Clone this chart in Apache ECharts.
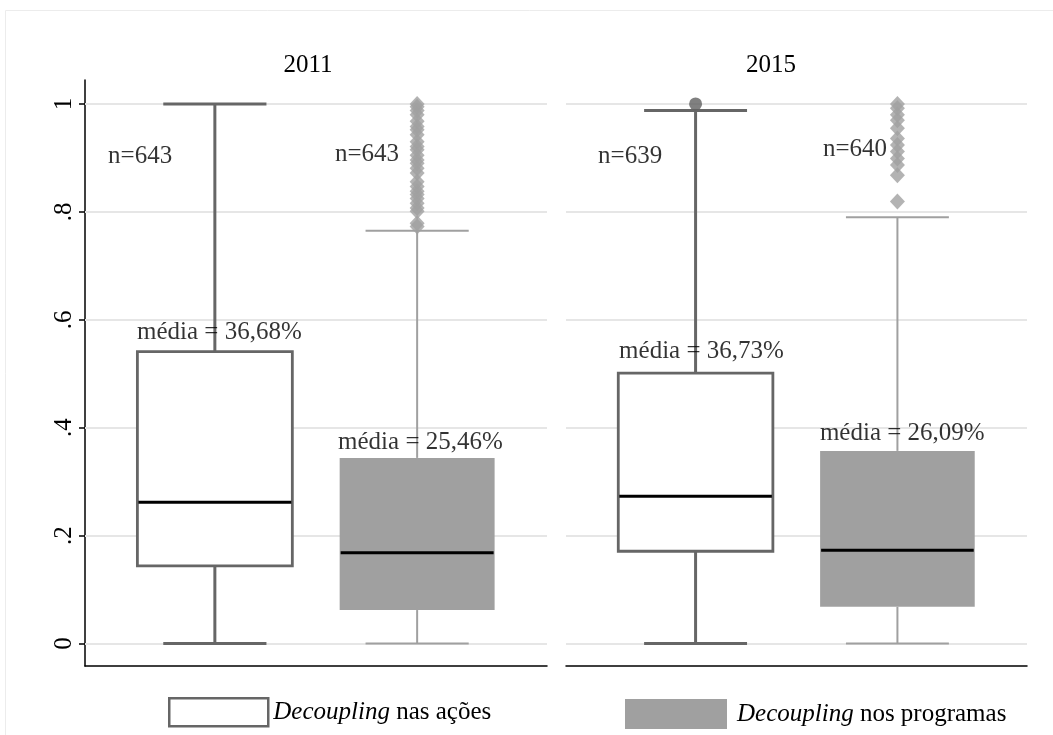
<!DOCTYPE html>
<html><head><meta charset="utf-8">
<script src="https://cdn.jsdelivr.net/npm/echarts@6/dist/echarts.min.js"></script>
<style>html,body{margin:0;padding:0;background:#fff}#c{width:1053px;height:735px}</style>
</head><body><div id="c"></div>
<script>
// ---------------- DATA ----------------
const years = ['2011', '2015'];
const groups = ['Decoupling nas ações', 'Decoupling nos programas'];
// [lower whisker, Q1, median, Q3, upper whisker]
const acoesBox = [[0, 0.144, 0.262, 0.541, 1.0], [0, 0.171, 0.273, 0.501, 0.988]];
const programasBox = [[0, 0.062, 0.168, 0.344, 0.765], [0, 0.068, 0.173, 0.357, 0.790]];
const acoesOutliers = [[], [1.0]];
const programasOutliers = [
  [1.0, 0.995, 0.988, 0.98, 0.968, 0.958, 0.952, 0.943, 0.93, 0.921, 0.915, 0.905, 0.896, 0.89, 0.881, 0.872, 0.856, 0.847, 0.838, 0.832, 0.825, 0.816, 0.807, 0.801, 0.779, 0.773],
  [1.0, 0.992, 0.98, 0.97, 0.955, 0.936, 0.924, 0.912, 0.899, 0.887, 0.868, 0.819]
];
const acoesN = [643, 639];
const programasN = [643, 640];
const acoesMean = [36.68, 36.73];
const programasMean = [25.46, 26.09];
const yTicks = [0, 0.2, 0.4, 0.6, 0.8, 1];
const yTickLabels = ['0', '.2', '.4', '.6', '.8', '1'];

// ---------------- LAYOUT / STYLE ----------------
const FONT = 'Liberation Serif';
const FS = 25;
const POS = [1, 2];               // x position of the two boxes inside a panel
const X_MIN = 0.358, X_MAX = 2.642;
const Y_MIN = -0.0417, Y_MAX = 1.0444;
const BOX_W = 0.766, CAP_W = 0.51;
const boxStyles = [
  { fill: '#ffffff', stroke: '#666666', lw: 2.8, wcol: '#666666', wlw: 3 },
  { fill: '#a0a0a0', stroke: '#a0a0a0', lw: 0, wcol: '#a0a0a0', wlw: 2 }
];
// annotation anchor points (data coords: [x, y]) per panel: n(ações), n(programas), média(ações), média(programas)
const annotPos = [
  [[0.472, 0.902], [1.594, 0.907], [0.615, 0.577], [1.609, 0.373]],
  [[0.517, 0.902], [1.631, 0.915], [0.621, 0.542], [1.616, 0.390]]
];
const panels = [
  { left: 85, width: 462, titleX: 308 },
  { left: 566, width: 461, titleX: 771 }
];

function fmtPct(v) { return 'média = ' + v.toFixed(2).replace('.', ',') + '%'; }

function renderBox(params, api) {
  const x = api.value(0);
  const st = boxStyles[api.value(6)];
  const pMin = api.coord([x, api.value(1)]);
  const pQ1 = api.coord([x, api.value(2)]);
  const pMed = api.coord([x, api.value(3)]);
  const pQ3 = api.coord([x, api.value(4)]);
  const pMax = api.coord([x, api.value(5)]);
  const hb = api.size([BOX_W, 0])[0] / 2;
  const hc = api.size([CAP_W, 0])[0] / 2;
  const cx = pMed[0];
  const wStyle = { stroke: st.wcol, lineWidth: st.wlw, fill: null };
  return {
    type: 'group',
    children: [
      { type: 'line', shape: { x1: cx, y1: pQ3[1], x2: cx, y2: pMax[1] }, style: wStyle },
      { type: 'line', shape: { x1: cx - hc, y1: pMax[1], x2: cx + hc, y2: pMax[1] }, style: wStyle },
      { type: 'line', shape: { x1: cx, y1: pQ1[1], x2: cx, y2: pMin[1] }, style: wStyle },
      { type: 'line', shape: { x1: cx - hc, y1: pMin[1], x2: cx + hc, y2: pMin[1] }, style: wStyle },
      { type: 'rect', shape: { x: cx - hb, y: pQ3[1], width: 2 * hb, height: pQ1[1] - pQ3[1] },
        style: { fill: st.fill, stroke: st.lw ? st.stroke : null, lineWidth: st.lw } },
      { type: 'line', shape: { x1: cx - hb + 1, y1: pMed[1], x2: cx + hb - 1, y2: pMed[1] },
        style: { stroke: '#000', lineWidth: 3 } }
    ]
  };
}

const grid = [], xAxis = [], yAxis = [], series = [], title = [];
panels.forEach((p, i) => {
  grid.push({ left: p.left, width: p.width, top: 80, height: 586 });
  xAxis.push({ type: 'value', gridIndex: i, min: X_MIN, max: X_MAX,
    axisLine: { show: true, onZero: false, lineStyle: { color: '#000', width: 1.5 } },
    axisTick: { show: false }, axisLabel: { show: false }, splitLine: { show: false } });
  yAxis.push({ type: 'value', gridIndex: i, min: Y_MIN, max: Y_MAX,
    axisLine: { show: i === 0, onZero: false, lineStyle: { color: '#000', width: 1.5 } },
    axisTick: { show: i === 0, customValues: yTicks, length: 6, lineStyle: { color: '#000', width: 1.5 } },
    axisLabel: { show: i === 0, customValues: yTicks, rotate: 90, margin: 8,
      fontFamily: FONT, fontSize: FS, color: '#000',
      formatter: v => { let k = 0; yTicks.forEach((t, j) => { if (Math.abs(t - v) < Math.abs(yTicks[k] - v)) k = j; }); return yTickLabels[k]; } },
    splitLine: { show: false } });
  title.push({ text: years[i], left: p.titleX, top: 53, textAlign: 'center', padding: 0,
    textStyle: { fontFamily: FONT, fontSize: FS, fontWeight: 'normal', color: '#000' } });

  // gridlines via markLine (behind everything)
  series.push({ type: 'line', xAxisIndex: i, yAxisIndex: i, data: [], z: 1, silent: true,
    markLine: { silent: true, z: 1, symbol: 'none', label: { show: false },
      lineStyle: { color: '#e6e6e6', width: 2, type: 'solid' },
      data: yTicks.map(t => ({ yAxis: t })) } });

  // boxes
  series.push({ type: 'custom', name: groups[0], xAxisIndex: i, yAxisIndex: i, z: 10,
    itemStyle: { color: '#ffffff' }, renderItem: renderBox,
    data: [[POS[0]].concat(acoesBox[i], [0])] });
  series.push({ type: 'custom', name: groups[1], xAxisIndex: i, yAxisIndex: i, z: 10,
    itemStyle: { color: '#a0a0a0' }, renderItem: renderBox,
    data: [[POS[1]].concat(programasBox[i], [1])] });

  // outliers
  series.push({ type: 'scatter', xAxisIndex: i, yAxisIndex: i, z: 11, symbol: 'circle', symbolSize: 13,
    itemStyle: { color: '#606060' }, data: acoesOutliers[i].map(v => [POS[0], v]) });
  series.push({ type: 'scatter', xAxisIndex: i, yAxisIndex: i, z: 11, symbol: 'diamond', symbolSize: [15, 16],
    itemStyle: { color: '#a0a0a0' }, data: programasOutliers[i].map(v => [POS[1], v]) });

  // annotations
  const texts = ['n=' + acoesN[i], 'n=' + programasN[i], fmtPct(acoesMean[i]), fmtPct(programasMean[i])];
  series.push({ type: 'scatter', xAxisIndex: i, yAxisIndex: i, z: 12, symbolSize: 0, silent: true,
    label: { show: true, position: 'right', distance: 0, fontFamily: FONT, fontSize: FS, color: '#000' },
    data: texts.map((t, k) => ({ value: annotPos[i][k], label: { formatter: t } })) });
});

const legendText = { fontFamily: FONT, fontSize: FS, color: '#000',
  rich: {
    i: { fontStyle: 'italic', fontFamily: FONT, fontSize: FS, color: '#000' },
    n: { fontStyle: 'normal', fontFamily: FONT, fontSize: FS, color: '#000' }
  } };
const legFmt = n => '{i|Decoupling}{n|' + n.slice('Decoupling'.length) + '}';

const option = {
  animation: false,
  backgroundColor: '#fff',
  title, grid, xAxis, yAxis, series,
  legend: [
    { data: [{ name: groups[0], icon: 'rect', itemStyle: { color: '#fff', borderColor: '#666', borderWidth: 2.5 } }],
      left: 168, top: 697, padding: 0, itemWidth: 99, itemHeight: 28, selectedMode: false, textStyle: legendText, formatter: legFmt },
    { data: [{ name: groups[1], icon: 'rect', itemStyle: { color: '#a0a0a0', borderWidth: 0 } }],
      left: 625, top: 699, padding: 0, itemWidth: 102, itemHeight: 30, itemGap: 0, selectedMode: false,
      textStyle: Object.assign({ padding: [0, 0, 0, 5] }, legendText), formatter: legFmt }
  ],
  graphic: [{ type: 'rect', shape: { x: 5.5, y: 10.5, width: 1100, height: 800 },
    style: { fill: null, stroke: '#ececec', lineWidth: 1 }, silent: true, z: -1 }]
};
echarts.init(document.getElementById('c')).setOption(option);
</script></body></html>
